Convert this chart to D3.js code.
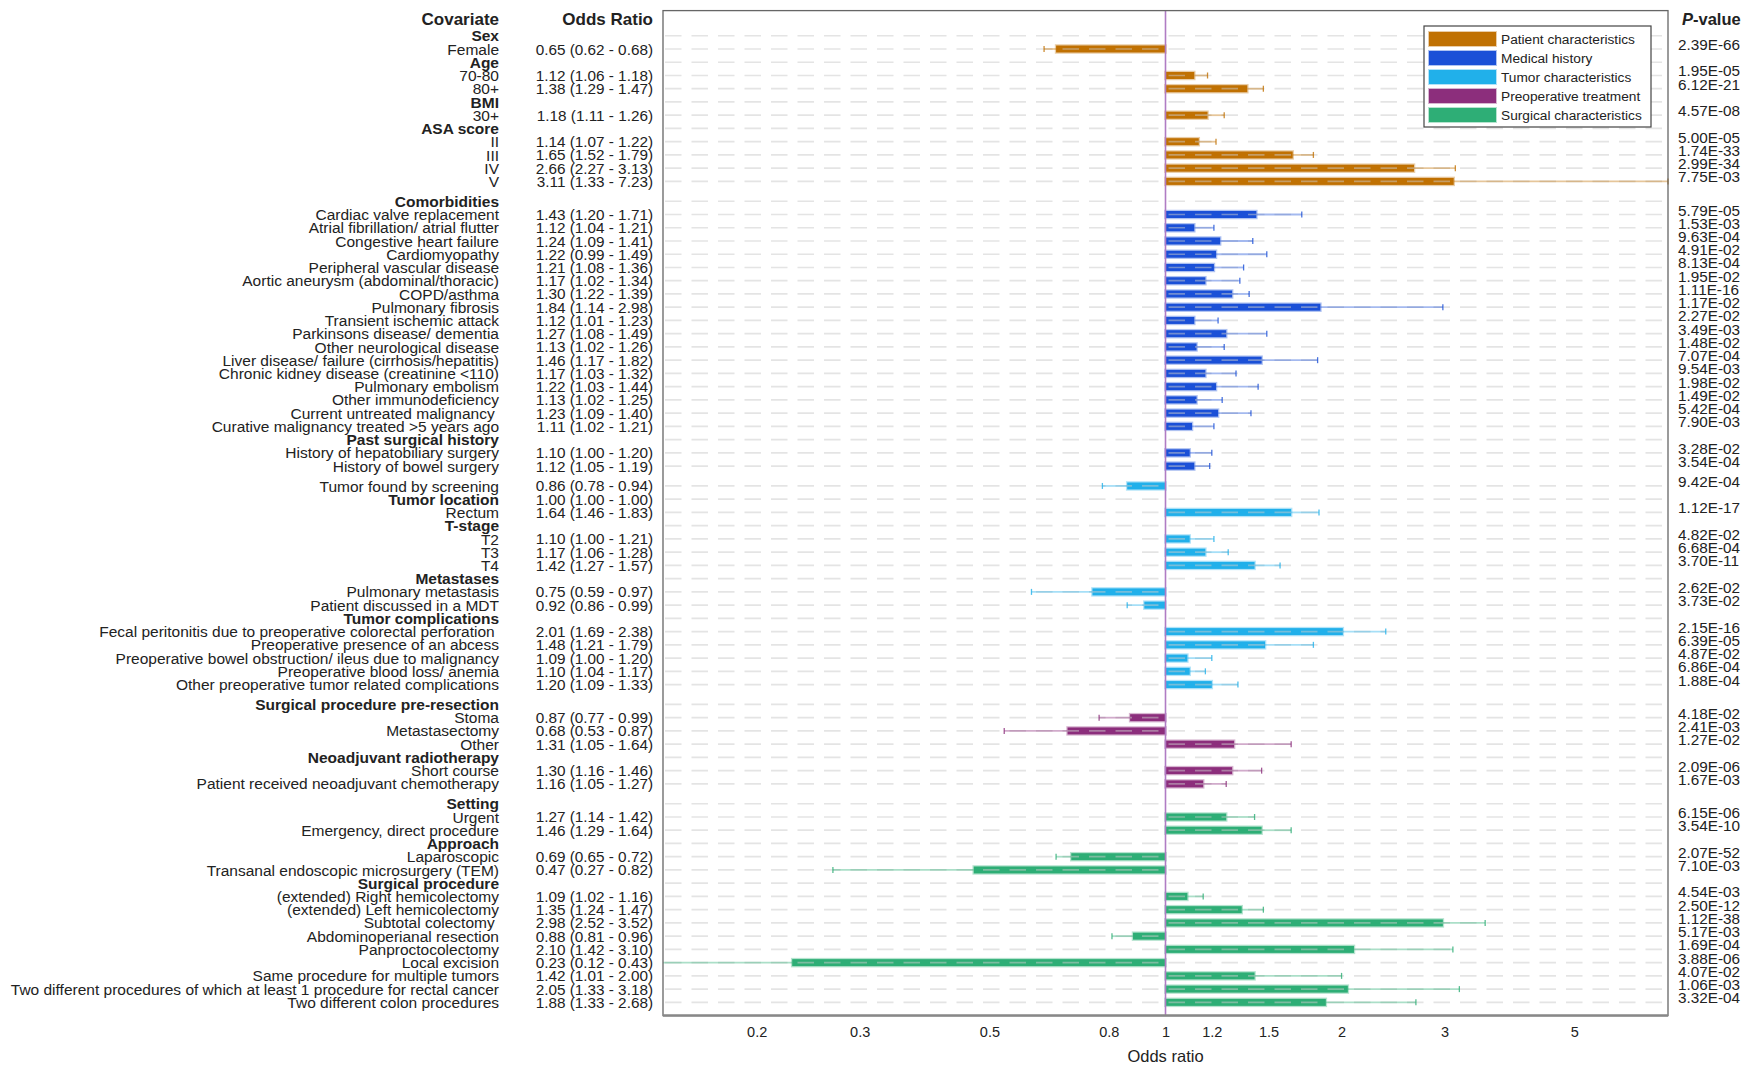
<!DOCTYPE html>
<html>
<head>
<meta charset="utf-8">
<script src="https://cdn.jsdelivr.net/npm/d3@7"></script>
<style>
body { margin: 0; background: #fff; }
svg text { white-space: pre; fill: #222; }
</style>
</head>
<body>
<svg id="chart" width="1755" height="1066"></svg>
<script>
// rows of the forest plot, top to bottom
var covariates = [
    "Sex", "Female", "Age", "70-80", "80+", "BMI", "30+", "ASA score", "II", "III", "IV", "V",
    "Comorbidities", "Cardiac valve replacement", "Atrial fibrillation/ atrial flutter", "Congestive heart failure",
    "Cardiomyopathy", "Peripheral vascular disease", "Aortic aneurysm (abdominal/thoracic)", "COPD/asthma",
    "Pulmonary fibrosis", "Transient ischemic attack", "Parkinsons disease/ dementia", "Other neurological disease",
    "Liver disease/ failure (cirrhosis/hepatitis)", "Chronic kidney disease (creatinine <110)", "Pulmonary embolism",
    "Other immunodeficiency", "Current untreated malignancy ", "Curative malignancy treated >5 years ago",
    "Past surgical history", "History of hepatobiliary surgery", "History of bowel surgery",
    "Tumor found by screening", "Tumor location", "Rectum", "T-stage", "T2", "T3", "T4",
    "Metastases", "Pulmonary metastasis", "Patient discussed in a MDT", "Tumor complications",
    "Fecal peritonitis due to preoperative colorectal perforation ", "Preoperative presence of an abcess",
    "Preoperative bowel obstruction/ ileus due to malignancy", "Preoperative blood loss/ anemia",
    "Other preoperative tumor related complications",
    "Surgical procedure pre-resection", "Stoma", "Metastasectomy", "Other", "Neoadjuvant radiotherapy",
    "Short course", "Patient received neoadjuvant chemotherapy",
    "Setting", "Urgent", "Emergency, direct procedure", "Approach", "Laparoscopic",
    "Transanal endoscopic microsurgery (TEM)", "Surgical procedure", "(extended) Right hemicolectomy",
    "(extended) Left hemicolectomy", "Subtotal colectomy ", "Abdominoperianal resection", "Panproctocolectomy",
    "Local excision", "Same procedure for multiple tumors",
    "Two different procedures of which at least 1 procedure for rectal cancer", "Two different colon procedures"
];
// bold sub headings
var headerRows = ["Sex", "Age", "BMI", "ASA score", "Comorbidities", "Past surgical history", "Tumor location",
    "T-stage", "Metastases", "Tumor complications", "Surgical procedure pre-resection",
    "Neoadjuvant radiotherapy", "Setting", "Approach", "Surgical procedure"];

var oddsRatio = [null, 0.65, null, 1.12, 1.38, null, 1.18, null, 1.14, 1.65, 2.66, 3.11,
    null, 1.43, 1.12, 1.24, 1.22, 1.21, 1.17, 1.30, 1.84, 1.12, 1.27, 1.13, 1.46, 1.17, 1.22, 1.13, 1.23, 1.11,
    null, 1.10, 1.12,
    0.86, 1.00, 1.64, null, 1.10, 1.17, 1.42, null, 0.75, 0.92, null, 2.01, 1.48, 1.09, 1.10, 1.20,
    null, 0.87, 0.68, 1.31, null, 1.30, 1.16,
    null, 1.27, 1.46, null, 0.69, 0.47, null, 1.09, 1.35, 2.98, 0.88, 2.10, 0.23, 1.42, 2.05, 1.88];
var lowerCI = [null, 0.62, null, 1.06, 1.29, null, 1.11, null, 1.07, 1.52, 2.27, 1.33,
    null, 1.20, 1.04, 1.09, 0.99, 1.08, 1.02, 1.22, 1.14, 1.01, 1.08, 1.02, 1.17, 1.03, 1.03, 1.02, 1.09, 1.02,
    null, 1.00, 1.05,
    0.78, 1.00, 1.46, null, 1.00, 1.06, 1.27, null, 0.59, 0.86, null, 1.69, 1.21, 1.00, 1.04, 1.09,
    null, 0.77, 0.53, 1.05, null, 1.16, 1.05,
    null, 1.14, 1.29, null, 0.65, 0.27, null, 1.02, 1.24, 2.52, 0.81, 1.42, 0.12, 1.01, 1.33, 1.33];
var upperCI = [null, 0.68, null, 1.18, 1.47, null, 1.26, null, 1.22, 1.79, 3.13, 7.23,
    null, 1.71, 1.21, 1.41, 1.49, 1.36, 1.34, 1.39, 2.98, 1.23, 1.49, 1.26, 1.82, 1.32, 1.44, 1.25, 1.40, 1.21,
    null, 1.20, 1.19,
    0.94, 1.00, 1.83, null, 1.21, 1.28, 1.57, null, 0.97, 0.99, null, 2.38, 1.79, 1.20, 1.17, 1.33,
    null, 0.99, 0.87, 1.64, null, 1.46, 1.27,
    null, 1.42, 1.64, null, 0.72, 0.82, null, 1.16, 1.47, 3.52, 0.96, 3.10, 0.43, 2.00, 3.18, 2.68];
var pValues = [null, "2.39E-66", null, "1.95E-05", "6.12E-21", null, "4.57E-08", null, "5.00E-05", "1.74E-33", "2.99E-34", "7.75E-03",
    null, "5.79E-05", "1.53E-03", "9.63E-04", "4.91E-02", "8.13E-04", "1.95E-02", "1.11E-16", "1.17E-02", "2.27E-02",
    "3.49E-03", "1.48E-02", "7.07E-04", "9.54E-03", "1.98E-02", "1.49E-02", "5.42E-04", "7.90E-03",
    null, "3.28E-02", "3.54E-04",
    "9.42E-04", null, "1.12E-17", null, "4.82E-02", "6.68E-04", "3.70E-11", null, "2.62E-02", "3.73E-02",
    null, "2.15E-16", "6.39E-05", "4.87E-02", "6.86E-04", "1.88E-04",
    null, "4.18E-02", "2.41E-03", "1.27E-02", null, "2.09E-06", "1.67E-03",
    null, "6.15E-06", "3.54E-10", null, "2.07E-52", "7.10E-03", null, "4.54E-03", "2.50E-12", "1.12E-38",
    "5.17E-03", "1.69E-04", "3.88E-06", "4.07E-02", "1.06E-03", "3.32E-04"];

// first row of each category block (blocks are split by a half row gap)
var groupStart = [0, 12, 33, 49, 56];
var groupNames = ["Patient characteristics", "Medical history", "Tumor characteristics",
    "Preoperative treatment", "Surgical characteristics"];
var groupColors = ["#c07102", "#1b50d7", "#21b0ea", "#8c2e7c", "#2eae76"];
var tickValues = [0.2, 0.3, 0.5, 0.8, 1, 1.2, 1.5, 2, 3, 5];

var svg = d3.select("#chart");
var font = "'Liberation Sans', Arial, sans-serif";

// plot box
var plotLeft = 663, plotRight = 1668;
var x = d3.scaleLog().domain([1 / 7.23, 7.23]).range([plotLeft, plotRight]);
var y = d3.scaleLinear().domain([-1.9, 74]).range([10.6, 1015.6]);

function groupOf(i) {
    var g = 0;
    groupStart.forEach(function(s, k) { if (i >= s) g = k; });
    return g;
}
// row position with the half gaps between blocks
function rowY(i) { return y(i + 0.5 * groupOf(i)); }

var rows = covariates.map(function(c, i) {
    return { label: c, or: oddsRatio[i], lo: lowerCI[i], hi: upperCI[i], p: pValues[i],
        group: groupOf(i), header: headerRows.indexOf(c) >= 0, y: rowY(i) };
});
var marks = rows.filter(function(d) { return d.p !== null; });

// column headings
svg.append("text").attr("x", 499).attr("y", 24.5).attr("text-anchor", "end")
    .style("font", "bold 17px " + font).text("Covariate");
svg.append("text").attr("x", 653).attr("y", 24.5).attr("text-anchor", "end")
    .style("font", "bold 17px " + font).text("Odds Ratio");
var ph = svg.append("text").attr("x", 1682).attr("y", 24.5).style("font", "bold 16.5px " + font);
ph.append("tspan").style("font-style", "italic").text("P");
ph.append("tspan").text("-value");

// covariate labels
svg.append("g").selectAll("text").data(rows).enter().append("text")
    .attr("x", 499).attr("y", function(d) { return d.y; }).attr("dy", "0.36em")
    .attr("text-anchor", "end")
    .style("font", function(d) { return (d.header ? "bold " : "") + "15.5px " + font; })
    .text(function(d) { return d.label; });

// odds ratio column
svg.append("g").selectAll("text").data(rows.filter(function(d) { return d.or !== null; })).enter().append("text")
    .attr("x", 653).attr("y", function(d) { return d.y; })
    .attr("dy", "0.36em").attr("text-anchor", "end")
    .style("font", "15.3px " + font)
    .text(function(d) { return d.or.toFixed(2) + " (" + d.lo.toFixed(2) + " - " + d.hi.toFixed(2) + ")"; });

// p-values
svg.append("g").selectAll("text").data(marks).enter().append("text")
    .attr("x", 1678).attr("y", function(d) { return d.y + 1; })
    .style("font", "15.3px " + font)
    .text(function(d) { return d.p; });

var plot = svg.append("g");

// bars from 1 to the odds ratio
plot.selectAll("rect.bar").data(marks).enter().append("rect")
    .attr("class", "bar")
    .attr("x", function(d) { return Math.min(x(d.or), x(1)); })
    .attr("y", function(d) { return d.y - 3.5; })
    .attr("width", function(d) { return Math.abs(x(d.or) - x(1)); })
    .attr("height", 7)
    .attr("fill", function(d) { return groupColors[d.group]; })
    .attr("stroke", function(d) { return groupColors[d.group]; })
    .attr("stroke-opacity", 0.35).attr("stroke-width", 2.5);

// dashed grid lines on every row
plot.selectAll("line.grid").data(rows).enter().append("line")
    .attr("class", "grid")
    .attr("x1", plotLeft + 2).attr("x2", plotRight)
    .attr("y1", function(d) { return d.y; }).attr("y2", function(d) { return d.y; })
    .attr("stroke", "#c9c9c9").attr("stroke-opacity", 0.5).attr("stroke-width", 1.7)
    .attr("stroke-dasharray", "16.5,10");

// outer half of the confidence interval
function outer(d) { return d.or < 1 ? d.lo : d.hi; }
function clampX(v) { return Math.max(plotLeft, Math.min(plotRight, x(v))); }
plot.selectAll("line.ci").data(marks).enter().append("line")
    .attr("class", "ci")
    .attr("x1", function(d) { return x(d.or); })
    .attr("x2", function(d) { return clampX(outer(d)); })
    .attr("y1", function(d) { return d.y; }).attr("y2", function(d) { return d.y; })
    .attr("stroke", function(d) { return groupColors[d.group]; })
    .attr("stroke-opacity", 0.4).attr("stroke-width", 1.8);
plot.selectAll("line.cap").data(marks.filter(function(d) { return x(outer(d)) >= plotLeft - 0.5; }))
    .enter().append("line")
    .attr("class", "cap")
    .attr("x1", function(d) { return clampX(outer(d)); })
    .attr("x2", function(d) { return clampX(outer(d)); })
    .attr("y1", function(d) { return d.y - 3; }).attr("y2", function(d) { return d.y + 3; })
    .attr("stroke", function(d) { return groupColors[d.group]; })
    .attr("stroke-opacity", 0.8).attr("stroke-width", 1.3);

// reference line at OR = 1
plot.append("line")
    .attr("x1", x(1)).attr("x2", x(1)).attr("y1", y(-1.9)).attr("y2", y(74))
    .attr("stroke", "#b07cc4").attr("stroke-width", 1.6);

// frame
plot.append("rect")
    .attr("x", plotLeft).attr("y", y(-1.9))
    .attr("width", plotRight - plotLeft).attr("height", y(74) - y(-1.9))
    .attr("fill", "none").attr("stroke", "#666").attr("stroke-width", 1.3);
plot.append("line")
    .attr("x1", plotLeft).attr("x2", plotRight).attr("y1", y(74)).attr("y2", y(74))
    .attr("stroke", "#888").attr("stroke-width", 2.5);

// x axis
var axis = svg.append("g").attr("transform", "translate(0," + y(74) + ")")
    .call(d3.axisBottom(x).tickValues(tickValues).tickSize(0).tickPadding(11)
        .tickFormat(function(d) { return String(d); }));
axis.select(".domain").remove();
axis.selectAll("text").style("font", "14.5px " + font).attr("fill", "#222");

svg.append("text").attr("x", x(1)).attr("y", 1062).attr("text-anchor", "middle")
    .style("font", "16.5px " + font).text("Odds ratio");

// legend
var legend = svg.append("g");
legend.append("rect").attr("x", 1424).attr("y", 26).attr("width", 227).attr("height", 101)
    .attr("fill", "#fff").attr("stroke", "#444").attr("stroke-width", 1.2);
var item = legend.selectAll("g.item").data(groupNames).enter().append("g")
    .attr("class", "item")
    .attr("transform", function(d, i) { return "translate(1429," + (39 + i * 19) + ")"; });
item.append("rect").attr("x", 0).attr("y", -7).attr("width", 67).attr("height", 14)
    .attr("fill", function(d, i) { return groupColors[i]; })
    .attr("stroke", function(d, i) { return groupColors[i]; })
    .attr("stroke-opacity", 0.35).attr("stroke-width", 2);
item.append("text").attr("x", 72).attr("dy", "0.36em")
    .style("font", "13.7px " + font).text(function(d) { return d; });
</script>
</body>
</html>
